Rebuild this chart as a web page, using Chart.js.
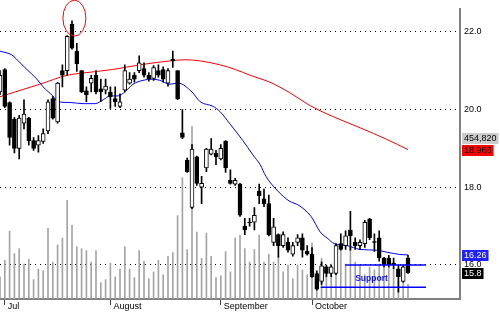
<!DOCTYPE html>
<html>
<head>
<meta charset="utf-8">
<title>Daily chart</title>
<script src="https://cdn.jsdelivr.net/npm/chart.js@4.4.1/dist/chart.umd.min.js"></script>
<style>
  html, body { margin: 0; padding: 0; background: #fff; }
  #wrap { width: 500px; height: 312px; }
</style>
</head>
<body>
<div id="wrap"><canvas id="chart"></canvas></div>
<script>
// one entry per trading day, index 0 = last day of June
const opens = [20.45, 21.03, 20.18, 19.75, 19.00, 19.65, 19.78, 19.20, 19.08, 19.18,
  19.45, 20.28, 19.68, 21.00, 21.00, 22.20, 21.50, 21.00, 20.48, 20.68,
  20.88, 20.53, 20.50, 20.45, 20.28, 20.08, 20.50, 20.68, 20.88, 21.00,
  21.05, 20.88, 20.80, 21.00, 21.03, 20.68, 21.30, 21.00, 19.40, 18.70,
  17.48, 18.78, 18.00, 18.50, 18.85, 18.88, 18.73, 19.18, 18.18, 18.08,
  18.08, 17.00, 17.10, 17.10, 17.90, 17.70, 17.58, 16.58, 16.78, 16.50,
  16.58, 16.28, 16.58, 16.70, 16.35, 16.28, 15.78, 15.58, 15.95, 15.78,
  15.78, 16.55, 16.50, 16.90, 16.58, 16.50, 16.55, 17.18, 16.60, 16.70,
  16.18, 16.18, 16.05, 15.90, 15.58, 16.18];
const highs = [21.00, 21.05, 20.20, 19.80, 19.85, 20.25, 19.80, 19.28, 19.33, 19.50,
  20.25, 20.33, 20.70, 21.15, 21.90, 22.28, 21.70, 21.00, 20.58, 20.88,
  21.00, 20.78, 20.78, 20.58, 20.58, 20.40, 21.15, 20.95, 20.95, 21.38,
  21.20, 20.95, 21.13, 21.15, 21.10, 21.05, 21.50, 21.00, 20.00, 18.75,
  19.10, 18.80, 18.28, 19.00, 19.25, 18.95, 19.10, 19.20, 18.45, 18.23,
  18.10, 17.20, 17.20, 17.48, 18.08, 17.95, 17.80, 17.20, 16.80, 16.85,
  16.70, 16.58, 16.78, 16.80, 16.50, 16.45, 15.85, 16.08, 16.00, 16.00,
  16.55, 16.80, 16.88, 17.38, 16.70, 16.65, 17.15, 17.20, 16.80, 16.88,
  16.20, 16.25, 16.18, 16.00, 16.00, 16.25];
const lows = [20.38, 20.05, 19.08, 18.88, 18.73, 19.50, 19.08, 18.95, 18.90, 19.13,
  19.38, 19.75, 19.65, 20.58, 20.88, 21.55, 20.98, 20.43, 20.20, 20.45,
  20.40, 20.20, 20.40, 20.03, 20.08, 20.05, 20.45, 20.65, 20.70, 20.95,
  20.83, 20.73, 20.75, 20.83, 20.70, 20.60, 21.08, 20.25, 19.25, 18.38,
  17.45, 18.05, 17.58, 18.40, 18.83, 18.58, 18.70, 18.38, 18.08, 18.05,
  17.25, 16.78, 17.00, 16.90, 17.58, 17.50, 16.75, 16.50, 16.20, 16.45,
  16.33, 16.23, 16.50, 16.20, 16.25, 15.68, 15.35, 15.50, 15.70, 15.70,
  15.75, 16.38, 16.40, 16.38, 16.40, 16.40, 16.45, 16.65, 16.35, 16.10,
  15.95, 15.95, 15.90, 15.30, 15.55, 15.78];
const closes = [20.88, 20.08, 19.28, 19.00, 19.78, 19.88, 19.20, 19.00, 19.20, 19.38,
  20.20, 19.78, 20.68, 20.88, 21.88, 21.58, 21.18, 20.45, 20.38, 20.80,
  20.45, 20.45, 20.60, 20.33, 20.20, 20.20, 21.00, 20.78, 20.78, 21.20,
  20.88, 20.78, 21.08, 20.88, 20.78, 21.00, 21.25, 20.28, 19.28, 18.40,
  18.98, 18.10, 18.10, 18.98, 18.98, 18.78, 19.00, 18.50, 18.10, 18.18,
  17.28, 16.90, 17.08, 17.28, 17.78, 17.58, 16.78, 16.98, 16.50, 16.78,
  16.38, 16.50, 16.70, 16.38, 16.28, 15.70, 15.38, 15.98, 15.78, 15.95,
  16.50, 16.40, 16.75, 16.75, 16.50, 16.58, 17.10, 16.70, 16.58, 16.18,
  16.00, 16.00, 16.00, 15.70, 15.95, 15.80];
const volumes = [690000, 1200000, 2100000, 1410000, 1560000, 1080000, 1230000, 600000, 930000, 870000,
  2190000, 1140000, 1680000, 1890000, 3060000, 2280000, 1620000, 1560000, 1500000, 1140000,
  1500000, 510000, 600000, 1110000, 690000, 930000, 1620000, 930000, 660000, 1500000,
  1170000, 630000, 840000, 1200000, 750000, 1320000, 1440000, 2580000, 3750000, 1530000,
  5340000, 2070000, 1260000, 2040000, 1320000, 660000, 720000, 1470000, 840000, 1890000,
  1980000, 1560000, 1140000, 1530000, 1980000, 1140000, 1380000, 1140000, 1320000, 840000,
  1050000, 630000, 1050000, 900000, 750000, 1740000, 810000, 1260000, 990000, 1080000,
  1050000, 1500000, 1080000, 1590000, 1140000, 1050000, 750000, 990000, 900000, 1080000,
  990000, 990000, 900000, 540000, 480000, 454820];

// moving averages (day index, price)
const maShortIdx = [0, 2.5, 4.2, 5.6, 7.7, 9, 11, 12.1, 14.6, 17.3, 19.8, 21.5, 22.9, 24.6, 26,
  27.7, 29.8, 31.7, 33.3, 35.4, 37.1, 40, 41.7, 44.4, 45.8, 47.9, 50.6, 52.7, 54.2, 55.4,
  57.9, 60.2, 62.3, 64.8, 66.7, 68.3, 69.6, 72.3, 75, 78.5, 80.6, 83.3, 85];
const maShortVal = [21.5, 21.4, 21.2, 21.03, 20.78, 20.58, 20.35, 20.2, 20.18, 20.15, 20.15, 20.25, 20.35, 20.35, 20.45,
  20.65, 20.75, 20.78, 20.75, 20.65, 20.68, 20.45, 20.2, 20.08, 19.95, 19.63, 19.2, 18.83, 18.58, 18.28,
  17.9, 17.65, 17.53, 17.25, 16.85, 16.68, 16.55, 16.5, 16.4, 16.38, 16.33, 16.27, 16.26];
const maLongIdx = [0, 8.3, 14, 18.1, 23.5, 29.2, 35.4, 38.5, 41.7, 45.8, 49, 52.1, 56.25, 60.4, 64.6, 68.75, 75, 80.6, 85];
const maLongVal = [20.33, 20.65, 20.88, 20.95, 21.03, 21.15, 21.25, 21.28, 21.25, 21.15, 21.03, 20.88, 20.7, 20.43, 20.1, 19.85, 19.53, 19.23, 18.968];

// drawn support lines: level, first day, last day
const supportLevels = [16.0, 15.425];
const supportFrom = [71.9, 66.8];
const supportTo = [88.75, 88.75];

const monthIdx = [1, 23, 46, 65];
const monthNames = ['Jul', 'August', 'September', 'October'];
const priceTicks = [16, 18, 20, 22];
const circleAt = [15.5, 22.35];   // red circle round the July high
const noteAt = [74, 15.6];        // "Support" caption

const FONT = '"Liberation Sans", Arial, sans-serif';
Chart.defaults.font.family = FONT;
Chart.defaults.font.size = 9;
Chart.defaults.color = '#000';

const last = closes.length - 1;
const isUp = i => closes[i] >= opens[i];

const overlay = {
  id: 'overlay',
  afterDraw(chart) {
    const { ctx, scales: { x, y } } = chart;
    ctx.save();

    ctx.strokeStyle = '#ff0000';
    ctx.lineWidth = 1;
    ctx.beginPath();
    ctx.ellipse(x.getPixelForValue(circleAt[0]), y.getPixelForValue(circleAt[1]), 11.5, 18, 0, 0, Math.PI * 2);
    ctx.stroke();

    ctx.font = 'bold 8.5px ' + FONT;
    ctx.fillStyle = '#1010f0';
    ctx.textBaseline = 'alphabetic';
    ctx.textAlign = 'left';
    ctx.fillText('Support', x.getPixelForValue(noteAt[0]), y.getPixelForValue(noteAt[1]));

    // value tags on the right axis
    ctx.font = '9px ' + FONT;
    const redY = y.getPixelForValue(maLongVal[maLongVal.length - 1]);
    const tags = [
      { text: maLongVal[maLongVal.length - 1].toFixed(3), cy: redY, bg: '#ff0000', fg: '#000' },
      { text: volumes[last].toLocaleString('en-US'), cy: redY - 12, bg: '#cccccc', fg: '#000' },
      { text: maShortVal[maShortVal.length - 1].toFixed(2), cy: y.getPixelForValue(maShortVal[maShortVal.length - 1]), bg: '#2020ff', fg: '#fff' },
      { text: closes[last].toFixed(1), cy: y.getPixelForValue(closes[last]), bg: '#000', fg: '#fff' }
    ];
    ctx.textBaseline = 'middle';
    tags.forEach(t => {
      const w = ctx.measureText(t.text).width;
      ctx.fillStyle = t.bg;
      ctx.fillRect(462, Math.round(t.cy) - 5, w + 4, 11);
      ctx.fillStyle = t.fg;
      ctx.fillText(t.text, 464, Math.round(t.cy) + 0.5);
    });
    ctx.restore();
  }
};

const bar = (extra) => Object.assign({
  type: 'bar', grouped: false, borderSkipped: false, xAxisID: 'x', yAxisID: 'y'
}, extra);

new Chart(document.getElementById('chart'), {
  type: 'bar',
  data: {
    datasets: [
      {
        type: 'line', order: 0, data: [{ x: supportFrom[0], y: supportLevels[0] }, { x: supportTo[0], y: supportLevels[0] }],
        borderColor: '#0000ff', borderWidth: 1.5, pointRadius: 0, xAxisID: 'x', yAxisID: 'y'
      },
      {
        type: 'line', order: 0, data: [{ x: supportFrom[1], y: supportLevels[1] }, { x: supportTo[1], y: supportLevels[1] }],
        borderColor: '#0000ff', borderWidth: 1.5, pointRadius: 0, xAxisID: 'x', yAxisID: 'y'
      },
      bar({
        order: 1,
        data: opens.map((o, i) => ({ x: i, y: [o, closes[i]] })),
        barThickness: 4,
        borderWidth: 1,
        borderColor: '#000',
        backgroundColor: c => isUp(c.dataIndex) ? '#fff' : '#000'
      }),
      bar({
        order: 2,
        data: lows.map((l, i) => ({ x: i, y: [l, highs[i]] })),
        barThickness: 1,
        borderWidth: 0,
        backgroundColor: '#000'
      }),
      {
        type: 'line', order: 3, data: maShortIdx.map((d, k) => ({ x: d, y: maShortVal[k] })),
        borderColor: '#0000ff', borderWidth: 1, pointRadius: 0, cubicInterpolationMode: 'monotone',
        xAxisID: 'x', yAxisID: 'y'
      },
      {
        type: 'line', order: 3, data: maLongIdx.map((d, k) => ({ x: d, y: maLongVal[k] })),
        borderColor: '#ff0000', borderWidth: 1, pointRadius: 0, cubicInterpolationMode: 'monotone',
        xAxisID: 'x', yAxisID: 'y'
      },
      bar({
        order: 4,
        yAxisID: 'v',
        data: volumes.map((v, i) => ({ x: i, y: v })),
        barThickness: 1,
        borderWidth: 0,
        backgroundColor: '#a4a4a4'
      })
    ]
  },
  options: {
    responsive: true,
    maintainAspectRatio: false,
    animation: false,
    layout: { padding: 0 },
    plugins: { legend: { display: false }, tooltip: { enabled: false } },
    scales: {
      x: {
        type: 'linear',
        offset: false,
        min: 0,
        max: 460 / 4.8,
        afterBuildTicks: s => { s.ticks = monthIdx.map(v => ({ value: v })); },
        afterFit: s => { s.height = 13; },
        ticks: {
          callback: (v, i) => monthNames[i],
          align: 'start',
          labelOffset: 3,
          padding: -4,
          maxRotation: 0,
          autoSkip: false,
          font: { size: 9 }
        },
        grid: { offset: false, drawOnChartArea: false, tickLength: 6, color: '#404040' },
        border: { display: true, color: '#808080', width: 2 }
      },
      y: {
        type: 'linear',
        position: 'right',
        min: 15.125,
        max: 22.575,
        afterBuildTicks: s => { s.ticks = priceTicks.map(v => ({ value: v })); },
        afterFit: s => { s.width = 40; },
        ticks: { callback: v => v.toFixed(1), padding: 4, font: { size: 9 } },
        grid: { drawTicks: false, color: '#000' },
        border: { display: true, color: '#808080', width: 2, dash: [1, 4] }
      },
      v: {
        type: 'linear',
        display: false,
        min: 0,
        max: 299 * 30000
      }
    }
  },
  plugins: [overlay]
});
</script>
</body>
</html>
